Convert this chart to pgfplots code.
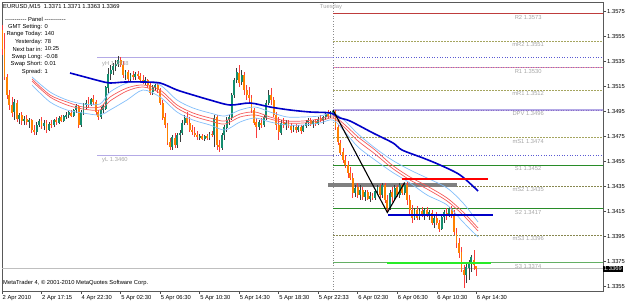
\documentclass[border=0pt]{standalone}
\usepackage{fontspec}
\setmainfont{Liberation Sans}
\usepackage{pgfplots}
\pgfplotsset{compat=1.18}
\usepackage{pgfplotstable}
\definecolor{bullbody}{RGB}{20,140,110}
\definecolor{bullwick}{RGB}{60,60,60}
\definecolor{bearbody}{RGB}{255,128,0}
\definecolor{bearwick}{RGB}{250,60,60}
\definecolor{lband}{RGB}{130,190,250}
\definecolor{rband}{RGB}{245,90,90}
\definecolor{slowma}{RGB}{0,0,200}
\definecolor{olivedot}{RGB}{165,165,95}
\definecolor{olivedk}{RGB}{135,135,80}
\definecolor{bluedot}{RGB}{90,90,210}
\definecolor{purdot}{RGB}{140,110,200}
\definecolor{sgreen}{RGB}{40,140,40}
\definecolor{sgreenlt}{RGB}{100,175,100}
\definecolor{labgray}{RGB}{165,165,165}
\definecolor{lav}{RGB}{180,170,230}
\definecolor{rtwo}{RGB}{190,60,60}
\definecolor{rone}{RGB}{245,150,160}
\definecolor{zonegray}{RGB}{128,128,128}
\definecolor{lime}{RGB}{40,235,40}
\newcommand\mt{\fontsize{5.8}{6.5}\selectfont}

\pgfplotstableread{
i O H L C
0 560 564 540 545
1 545 558 520 522
2 522 525 505 508
3 508 512 496 500
4 500 506 490 494
5 494 505 488 502
6 502 504 486 489
7 489 494 485 492
8 492 494 484 487
9 487 491 484 489
10 489 492 484 486
11 486 490 482 488
12 488 489 478 480
13 480 484 476 478
14 478 486 476 484
15 484 489 482 487
16 487 490 481 483
17 483 488 480 486
18 486 488 478 480
19 480 486 479 485
20 485 488 482 484
21 484 489 482 488
22 488 490 484 486
23 486 491 485 490
24 490 492 486 487
25 487 492 486 491
26 491 494 489 492
27 492 495 490 494
28 494 496 490 491
29 491 497 490 496
30 496 501 494 499
31 499 500 482 484
32 484 496 482 494
33 494 502 492 500
34 500 504 497 502
35 502 506 498 500
36 500 506 499 505
37 505 508 500 502
38 502 504 492 494
39 494 496 488 490
40 490 498 489 496
41 496 501 494 499
42 497 515 496 514
43 514 530 510 525
44 525 532 520 528
45 528 534 524 531
46 531 536 527 533
47 533 539 530 536
48 536 538 530 532
49 532 535 522 524
50 524 528 520 526
51 526 528 519 521
52 521 526 519 524
53 524 527 520 522
54 522 526 520 525
55 525 527 521 523
56 523 526 519 520
57 520 524 517 518
58 518 522 516 520
59 520 521 514 516
60 516 518 508 510
61 510 516 508 514
62 514 518 511 516
63 516 518 510 512
64 512 514 500 502
65 502 504 488 490
66 490 494 482 484
67 484 486 468 470
68 470 474 464 466
69 466 476 464 474
70 474 478 466 468
71 468 478 466 476
72 476 480 470 478
73 478 488 476 486
74 486 492 484 490
75 490 494 484 486
76 486 490 478 480
77 480 484 476 478
78 478 482 474 476
79 476 479 472 474
80 474 477 472 475
81 475 477 472 473
82 473 476 471 475
83 475 477 472 474
84 474 478 472 477
85 477 479 474 476
86 476 492 466 490
87 490 492 464 468
88 468 472 462 466
89 466 478 464 476
90 476 484 472 482
91 482 490 478 488
92 488 492 484 490
93 490 510 488 508
94 508 522 506 520
95 520 530 518 526
96 526 532 514 518
97 518 528 516 524
98 524 526 508 512
99 512 516 504 508
100 508 514 502 506
101 506 508 494 496
102 496 498 484 486
103 486 490 474 482
104 482 488 480 486
105 486 490 482 484
106 484 492 482 490
107 490 504 488 502
108 502 512 500 508
109 508 514 500 504
110 504 506 490 492
111 492 494 480 484
112 484 490 472 478
113 478 488 476 486
114 486 490 482 484
115 484 488 480 486
116 486 488 482 483
117 483 486 478 480
118 480 484 478 482
119 482 485 478 480
120 480 484 478 482
121 482 484 477 479
122 479 484 478 483
123 483 488 482 486
124 486 490 483 488
125 488 490 483 485
126 485 488 482 487
127 487 489 483 485
128 485 490 484 489
129 489 492 486 488
130 488 491 485 490
131 490 494 488 493
132 493 496 489 491
133 491 495 490 494
134 494 496 492 495
135 495 496 480 482
136 482 484 468 470
137 470 472 460 462
138 462 466 454 456
139 456 460 450 452
140 452 455 442 446
141 446 450 440 442
142 442 446 426 430
143 430 436 426 434
144 434 438 426 428
145 428 436 424 432
146 432 434 424 426
147 426 432 423 430
148 430 432 424 425
149 425 430 422 427
150 427 430 424 426
151 426 432 424 431
152 431 436 428 434
153 434 437 426 428
154 428 438 426 436
155 436 438 422 424
156 424 428 414 418
157 418 432 416 430
158 430 434 422 426
159 426 436 424 434
160 434 436 426 428
161 428 438 426 436
162 436 437 428 430
163 430 438 428 436
164 436 438 420 424
165 424 428 412 416
166 416 420 406 410
167 410 418 408 416
168 416 419 408 410
169 410 418 408 415
170 415 418 410 412
171 412 418 408 416
172 416 418 410 411
173 411 416 408 414
174 414 416 404 406
175 406 412 402 410
176 410 414 404 406
177 406 408 398 401
178 401 412 400 410
179 410 416 406 414
180 414 418 408 412
181 412 418 410 417
182 417 419 410 413
183 413 416 396 398
184 398 402 386 390
185 390 394 378 382
186 382 386 366 368
187 368 372 354 364
188 364 374 358 370
189 370 376 360 374
190 374 380 366 378
191 376 384 368 372
192 371 371 363 369
}\candles

\pgfplotstableread{
x up ra rb lo
12.15 522.4 520.8 519.2 516
19.43 510.4 508 506.4 502.4
26.32 504 502.4 500 496
32.79 500.8 498.4 496.8 493.6
39.68 500.8 498.4 496 492
43.72 510.4 506.4 503.2 496
50.61 517.6 513.6 511.2 504
57.09 518.4 516 514.4 512
63.97 516 512 509.6 506.4
70.85 504 500 497.6 494.4
77.33 497.6 493.6 491.2 488
84.21 493.6 489.6 487.2 484
90.28 491.2 487.2 484.8 480
96.36 496 492.8 490.4 486.4
102.43 498.4 494.4 492 489.6
108.50 494.4 490.4 488.8 486.4
115.38 490.4 487.2 485.6 484
121.86 490.4 487.2 485.6 484
128.74 491.2 488.8 487.2 485.6
134.01 493.6 491.2 489.6 488
138.87 487.2 484 481.6 478.4
144.13 476.8 474.4 471.2 466.4
151.01 465.6 464 460.8 456
157.89 456 452 449.6 446.4
165.18 448 442.4 440 437.6
172.06 441.6 435.2 432.8 428
180.16 433.6 425.6 423.2 420
186.64 421.6 414.4 412 406.4
192.71 406.4 401.6 399.2 394.4
}\bands

\pgfplotstableread{
x y
27.53 525.6
33.6 522.4
39.68 519.2
43.72 517.6
49.8 518.4
57.09 518.4
63.97 517.6
70.85 512
77.33 508
84.21 504
92.31 500
100.4 501.6
108.5 498.4
116.6 496
124.7 494.4
132.8 493.6
136.84 489.6
140.89 487.2
150.2 477.6
158.3 469.6
161.94 464
170.45 457.6
177.33 452
185.43 444
192.71 431.2
}\slowmadata

\begin{document}
\begin{tikzpicture}
\useasboundingbox (0,0) rectangle (625pt,306pt);
\begin{axis}[
  at={(2pt,15pt)}, anchor=south west,
  scale only axis, width=601pt, height=289pt,
  xmin=0, xmax=243.3, ymin=351.2, ymax=582.4,
  clip mode=individual,
  axis line style={black!65, line width=0.5pt},
  tick style={black!70, line width=0.5pt},
  major tick length=3pt, tick align=outside,
  xtick pos=left, ytick pos=right, yticklabel pos=right,
  xtick={0,16,32,48,64,80,96,112,128,144,160,176,192},
  xticklabels={2 Apr 2010,2 Apr 17:15,4 Apr 22:30,5 Apr 02:30,5 Apr 06:30,5 Apr 10:30,5 Apr 14:30,5 Apr 18:30,5 Apr 22:33,6 Apr 02:30,6 Apr 06:30,6 Apr 10:30,6 Apr 14:30},
  ytick={355,375,395,415,435,455,475,495,515,535,555,575},
  yticklabels={1.3355,1.3375,1.3395,1.3415,1.3435,1.3455,1.3475,1.3495,1.3515,1.3535,1.3555,1.3575},
  xticklabel style={font=\mt, anchor=north west, inner sep=1pt, xshift=-0.5pt},
  yticklabel style={font=\mt, anchor=west, inner sep=1pt},
]
% day separator and price line
\addplot[black!45, dotted, line width=0.6pt] coordinates {(134,340) (134,600)};
\addplot[black!25, line width=0.6pt] coordinates {(-5,369) (250,369)};
% yesterday high / low
\addplot[lav, line width=0.9pt] coordinates {(38.46,538) (134,538)};
\addplot[lav, line width=0.9pt] coordinates {(38.46,460) (134,460)};
\addplot[bluedot, dotted, line width=0.6pt] coordinates {(134,538) (250,538)};
\addplot[bluedot, dotted, line width=0.6pt] coordinates {(134,460) (250,460)};
% pivot levels
\addplot[rtwo, line width=0.7pt] coordinates {(134,573) (250,573)};
\addplot[olivedot, dash pattern=on 1.5pt off 1.5pt, line width=0.7pt] coordinates {(134,551) (250,551)};
\addplot[rone, line width=1.6pt] coordinates {(134,530) (250,530)};
\addplot[purdot, dotted, line width=0.5pt] coordinates {(134,530) (250,530)};
\addplot[olivedot, dash pattern=on 1.5pt off 1.5pt, line width=0.7pt] coordinates {(134,512) (250,512)};
\addplot[lav, line width=1.5pt] coordinates {(134,496) (250,496)};
\addplot[purdot, dotted, line width=0.5pt] coordinates {(134,496) (250,496)};
\addplot[olivedot, dash pattern=on 1.5pt off 1.5pt, line width=0.7pt] coordinates {(134,474) (250,474)};
\addplot[sgreen, line width=0.7pt] coordinates {(134,452) (250,452)};
\addplot[olivedk, dash pattern=on 1.5pt off 1.5pt, line width=0.7pt] coordinates {(134,435) (250,435)};
\addplot[sgreen, line width=0.7pt] coordinates {(134,417) (250,417)};
\addplot[olivedk, dash pattern=on 1.5pt off 1.5pt, line width=0.7pt] coordinates {(134,396) (250,396)};
\addplot[sgreenlt, line width=0.7pt] coordinates {(134,374) (250,374)};
% gray zone
\addplot[zonegray, line width=4.5pt] coordinates {(132,436) (184.2,436)};
% candles: wicks
\addplot[draw=none, mark=none, restrict expr to domain={\thisrow{C}-\thisrow{O}}{0:1000},
  error bars/.cd, y dir=both, y explicit, error mark=none,
  error bar style={draw=bullwick, line width=0.6pt}]
  table[x=i, y expr={(\thisrow{H}+\thisrow{L})/2}, y error expr={(\thisrow{H}-\thisrow{L})/2}]{\candles};
\addplot[draw=none, mark=none, restrict expr to domain={\thisrow{C}-\thisrow{O}}{-1000:-0.001},
  error bars/.cd, y dir=both, y explicit, error mark=none,
  error bar style={draw=bearwick, line width=0.6pt}]
  table[x=i, y expr={(\thisrow{H}+\thisrow{L})/2}, y error expr={(\thisrow{H}-\thisrow{L})/2}]{\candles};
% candles: bodies
\addplot[draw=none, mark=none, restrict expr to domain={\thisrow{C}-\thisrow{O}}{0:1000},
  error bars/.cd, y dir=both, y explicit, error mark=none,
  error bar style={draw=bullbody, line width=1.9pt}]
  table[x=i, y expr={(\thisrow{O}+\thisrow{C})/2}, y error expr={max(abs(\thisrow{C}-\thisrow{O})/2,0.5)}]{\candles};
\addplot[draw=none, mark=none, restrict expr to domain={\thisrow{C}-\thisrow{O}}{-1000:-0.001},
  error bars/.cd, y dir=both, y explicit, error mark=none,
  error bar style={draw=bearbody, line width=1.9pt}]
  table[x=i, y expr={(\thisrow{O}+\thisrow{C})/2}, y error expr={max(abs(\thisrow{C}-\thisrow{O})/2,0.5)}]{\candles};
% moving averages
\addplot[lband, line width=0.7pt, smooth] table[x=x,y=up]{\bands};
\addplot[rband, line width=0.7pt, smooth] table[x=x,y=ra]{\bands};
\addplot[rband, line width=0.7pt, smooth] table[x=x,y=rb]{\bands};
\addplot[lband, line width=0.7pt, smooth] table[x=x,y=lo]{\bands};
\addplot[slowma, line width=1.6pt, smooth] table[x=x,y=y]{\slowmadata};
% levels from zigzag
\addplot[red, line width=2.2pt] coordinates {(162,441) (196.8,441)};
\addplot[slowma, line width=2.2pt] coordinates {(156.3,412) (198.8,412)};
\addplot[lime, line width=2.2pt] coordinates {(155.9,373.5) (198,373.5)};
\addplot[black, line width=1.1pt] coordinates {(134,496) (156,414) (163,438)};
% labels
\foreach \lv/\tx in {573/R2 1.3573,551/mR2 1.3551,530/R1 1.3530,512/mR1 1.3512,496/DPV 1.3496,474/mS1 1.3474,452/S1 1.3452,435/mS2 1.3435,417/S2 1.3417,396/mS3 1.3396,374/S3 1.3374}{
  \edef\tmp{\noexpand\node[font=\noexpand\mt, text=labgray, anchor=north, inner sep=0.5pt, yshift=-1pt] at (axis cs:213,\lv) {\tx};}\tmp
}
\node[font=\mt, text=labgray, anchor=west, inner sep=0pt] at (axis cs:40.5,532.5) {yH 1.3538};
\node[font=\mt, text=labgray, anchor=west, inner sep=0pt] at (axis cs:40.5,456) {yL 1.3460};
\node[font=\mt, fill=black, text=white, anchor=west, inner sep=0.8pt] at (axis cs:243.3,369) {1.3369};
\end{axis}
% text overlays
\node[font=\mt, anchor=west, inner sep=0pt] at (3pt,299pt) {EURUSD,M15\ \ 1.3371 1.3371 1.3363 1.3369};
\node[font=\mt, text=labgray, inner sep=0pt] at (331pt,299pt) {Tuesday};
\node[font=\mt, inner sep=0pt] at (35.5pt,286.5pt) {-{}-{}-{}-{}-{}-{}-{}-{}-{}-{}- Panel -{}-{}-{}-{}-{}-{}-{}-{}-{}-{}-};
\foreach \yy/\la/\va in {279/GMT Setting:/0,272/Range Today:/140,264/Yesterday:/78,257/Next bar in:/10:25,249/Swap Long:/-0.08,242/Swap Short:/0.01,234/Spread:/1}{
  \node[font=\mt, anchor=east, inner sep=0pt] at (42.5pt,\yy pt) {\la};
  \node[font=\mt, anchor=west, inner sep=0pt] at (44.5pt,\yy pt) {\va};
}
\node[font=\mt, anchor=west, inner sep=0pt] at (3pt,23pt) {MetaTrader 4, \copyright\ 2001-2010 MetaQuotes Software Corp.};
\end{tikzpicture}
\end{document}
